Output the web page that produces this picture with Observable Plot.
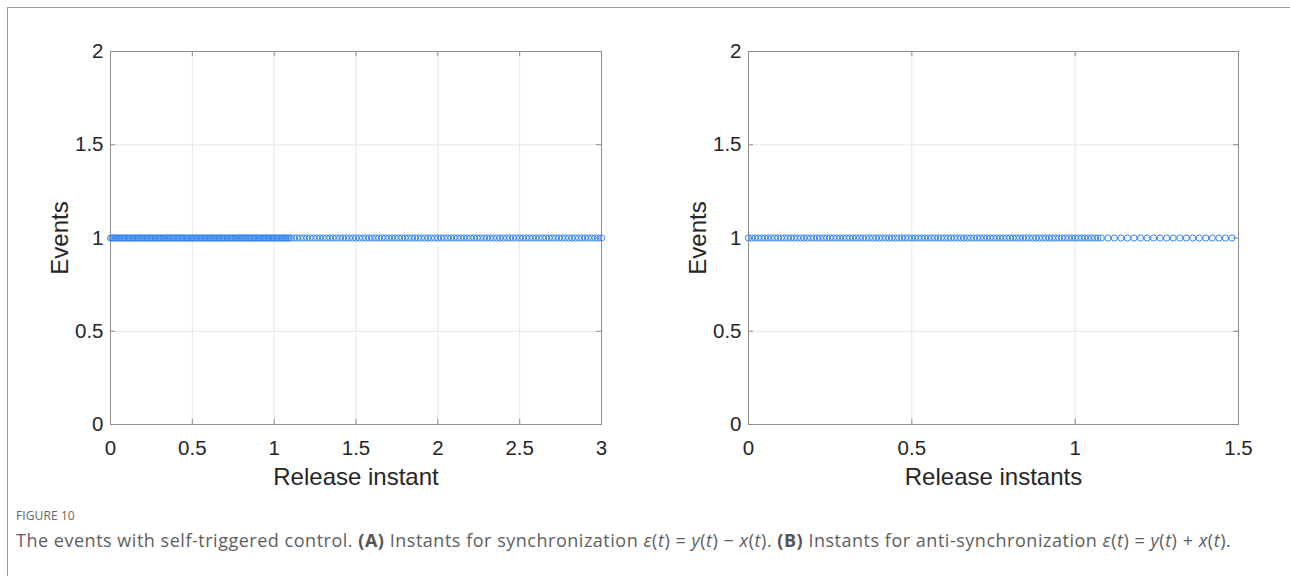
<!DOCTYPE html>
<html>
<head>
<meta charset="utf-8">
<script src="https://cdn.jsdelivr.net/npm/d3@7"></script>
<script src="https://cdn.jsdelivr.net/npm/@observablehq/plot@0.6"></script>
<style>
  html, body { margin: 0; padding: 0; background: #fff; }
  #root { position: relative; width: 1290px; height: 576px; overflow: hidden; background: #fff; }
  #frame { position: absolute; left: 7px; top: 7px; width: 1300px; height: 600px; border-left: 1px solid #9a9a9a; border-top: 1px solid #9a9a9a; }
  .panel { position: absolute; top: 0; }
  #figlabel { position: absolute; left: 16px; top: 507px; font-family: "Open Sans", sans-serif; font-size: 12px; color: #666; letter-spacing: 0.1px; }
  #caption { position: absolute; left: 16px; top: 528px; font-family: "Open Sans", sans-serif; font-size: 18px; letter-spacing: 0.52px; color: #5e5e5e; white-space: nowrap; }
  #caption i { font-style: italic; }
  #caption b { font-weight: 700; color: #555; }
</style>
</head>
<body>
<div id="root">
  <div id="frame"></div>
  <div id="panelA" class="panel" style="left:0px"></div>
  <div id="panelB" class="panel" style="left:645px"></div>
  <div id="figlabel">FIGURE 10</div>
  <div id="caption">The events with self-triggered control. <b>(A)</b> Instants for synchronization <i>ε</i>(<i>t</i>) = <i>y</i>(<i>t</i>) − <i>x</i>(<i>t</i>). <b>(B)</b> Instants for anti-synchronization <i>ε</i>(<i>t</i>) = <i>y</i>(<i>t</i>) + <i>x</i>(<i>t</i>).</div>
</div>
<script>
// ---- Data: panel A (synchronization) release instants ----
const releaseA = [
0.00,0.01,0.02,0.03,0.04,0.05,0.06,0.07,0.08,0.09,
0.10,0.11,0.12,0.13,0.14,0.15,0.16,0.17,0.18,0.19,
0.20,0.21,0.22,0.23,0.24,0.25,0.26,0.27,0.28,0.29,
0.30,0.31,0.32,0.33,0.34,0.35,0.36,0.37,0.38,0.39,
0.40,0.41,0.42,0.43,0.44,0.45,0.46,0.47,0.48,0.49,
0.50,0.51,0.52,0.53,0.54,0.55,0.56,0.57,0.58,0.59,
0.60,0.61,0.62,0.63,0.64,0.65,0.66,0.67,0.68,0.69,
0.70,0.71,0.72,0.73,0.74,0.75,0.76,0.77,0.78,0.79,
0.80,0.81,0.82,0.83,0.84,0.85,0.86,0.87,0.88,0.89,
0.90,0.91,0.92,0.93,0.94,0.95,0.96,0.97,0.98,0.99,
1.00,1.01,1.02,1.03,1.04,1.05,1.06,1.07,1.08,1.09,
1.10,
1.12,1.14,1.16,1.18,1.20,1.22,1.24,1.26,1.28,1.30,
1.32,1.34,1.36,1.38,1.40,1.42,1.44,1.46,1.48,1.50,
1.52,1.54,1.56,1.58,1.60,1.62,1.64,1.66,1.68,1.70,
1.72,1.74,1.76,1.78,1.80,1.82,1.84,1.86,1.88,1.90,
1.92,1.94,1.96,1.98,2.00,2.02,2.04,2.06,2.08,2.10,
2.12,2.14,2.16,2.18,2.20,2.22,2.24,2.26,2.28,2.30,
2.32,2.34,2.36,2.38,2.40,2.42,2.44,2.46,2.48,2.50,
2.52,2.54,2.56,2.58,2.60,2.62,2.64,2.66,2.68,2.70,
2.72,2.74,2.76,2.78,2.80,2.82,2.84,2.86,2.88,2.90,
2.92,2.94,2.96,2.98,3.00
];
// ---- Data: panel B (anti-synchronization) release instants ----
const releaseB = [
0.00,0.01,0.02,0.03,0.04,0.05,0.06,0.07,0.08,0.09,
0.10,0.11,0.12,0.13,0.14,0.15,0.16,0.17,0.18,0.19,
0.20,0.21,0.22,0.23,0.24,0.25,0.26,0.27,0.28,0.29,
0.30,0.31,0.32,0.33,0.34,0.35,0.36,0.37,0.38,0.39,
0.40,0.41,0.42,0.43,0.44,0.45,0.46,0.47,0.48,0.49,
0.50,0.51,0.52,0.53,0.54,0.55,0.56,0.57,0.58,0.59,
0.60,0.61,0.62,0.63,0.64,0.65,0.66,0.67,0.68,0.69,
0.70,0.71,0.72,0.73,0.74,0.75,0.76,0.77,0.78,0.79,
0.80,0.81,0.82,0.83,0.84,0.85,0.86,0.87,0.88,0.89,
0.90,0.91,0.92,0.93,0.94,0.95,0.96,0.97,0.98,0.99,
1.00,1.01,1.02,1.03,1.04,1.05,1.06,1.07,1.08,
1.10,1.12,1.14,1.16,1.18,1.20,1.22,1.24,1.26,1.28,
1.30,1.32,1.34,1.36,1.38,1.40,1.42,1.44,1.46,1.48
];
const eventValue = 1;
const xTicksA = [0, 0.5, 1, 1.5, 2, 2.5, 3];
const xTicksB = [0, 0.5, 1, 1.5];
const yTicks = [0, 0.5, 1, 1.5, 2];
const xDomainA = [0, 3];
const xDomainB = [0, 1.5];
const yDomain = [0, 2];
const xLabelA = "Release instant";
const xLabelB = "Release instants";
const yLabel = "Events";

const fmt = d => String(d);
const dotColor = "#3683ec";
const axisColor = "#8c8c8c";
const gridColor = "#e8e8e8";
const textColor = "#262626";

function panel({data, xDomain, xTicks, xLabel, width, marginLeft, marginRight}) {
  const H = 500, mt = 51, mb = 76;
  const plotH = H - mt - mb;
  const plotW = width - marginLeft - marginRight;
  return Plot.plot({
    width, height: H,
    marginLeft, marginRight, marginTop: mt, marginBottom: mb,
    x: {domain: xDomain},
    y: {domain: yDomain},
    style: {fontFamily: "'Liberation Sans', Arial, sans-serif", fontSize: "20.5px", color: textColor, background: "transparent", overflow: "visible"},
    marks: [
      Plot.gridX(xTicks, {stroke: gridColor, strokeOpacity: 1}),
      Plot.gridY(yTicks, {stroke: gridColor, strokeOpacity: 1}),
      Plot.tickX(xTicks, {x: d => d, stroke: axisColor, insetTop: plotH - 5}),
      Plot.tickX(xTicks, {x: d => d, stroke: axisColor, insetBottom: plotH - 5}),
      Plot.tickY(yTicks, {y: d => d, stroke: axisColor, insetRight: plotW - 5}),
      Plot.tickY(yTicks, {y: d => d, stroke: axisColor, insetLeft: plotW - 5}),
      Plot.frame({stroke: axisColor}),
      Plot.axisX(xTicks, {tickSize: 0, tickPadding: 16, tickFormat: fmt, label: null, fill: textColor}),
      Plot.axisY(yTicks, {tickSize: 0, tickPadding: 7, tickFormat: fmt, label: null, fill: textColor}),
      Plot.dot(data, {x: d => d, y: () => eventValue, r: 3.1, stroke: dotColor, strokeWidth: 1, fill: "none"}),
      Plot.text([xLabel], {frameAnchor: "bottom", dy: 53, lineAnchor: "middle", textAnchor: "middle", text: d => d, fontSize: 24, fill: textColor}),
      Plot.text([yLabel], {frameAnchor: "left", dx: -50, rotate: -90, lineAnchor: "middle", textAnchor: "middle", text: d => d, fontSize: 24, fill: textColor})
    ]
  });
}

document.getElementById("panelA").appendChild(panel({
  data: releaseA, xDomain: xDomainA, xTicks: xTicksA, xLabel: xLabelA,
  width: 645, marginLeft: 110, marginRight: 44
}));
document.getElementById("panelB").appendChild(panel({
  data: releaseB, xDomain: xDomainB, xTicks: xTicksB, xLabel: xLabelB,
  width: 645, marginLeft: 103, marginRight: 52
}));
</script>
</body>
</html>
